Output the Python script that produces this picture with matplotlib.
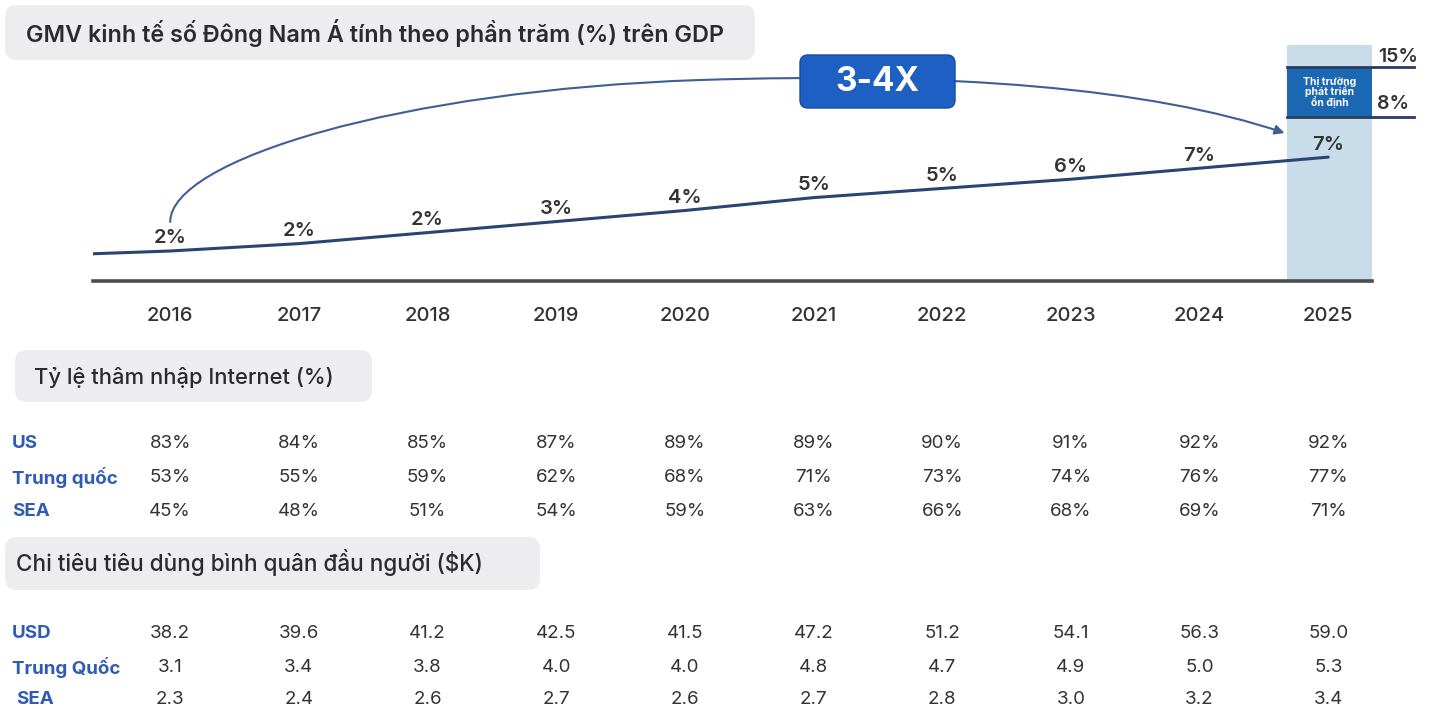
import numpy as np
import matplotlib
matplotlib.use("Agg")
import matplotlib.pyplot as plt
from matplotlib.patches import FancyBboxPatch, FancyArrowPatch
from matplotlib.path import Path
from matplotlib.transforms import blended_transform_factory

plt.rcParams['font.family'] = ['Inter', 'DejaVu Sans']

# ---- data ----
years = [2016, 2017, 2018, 2019, 2020, 2021, 2022, 2023, 2024, 2025]
gmv_line = [1.9, 2.3, 2.9, 3.5, 4.1, 4.8, 5.3, 5.8, 6.4, 7.0]  # % GDP (uoc luong theo duong ve)
gmv_labels = ["2%", "2%", "2%", "3%", "4%", "5%", "5%", "6%", "7%", "7%"]
line_start = (2015.40, 1.75)

internet_rows = ["US", "Trung quốc", "SEA"]
internet_us = [83, 84, 85, 87, 89, 89, 90, 91, 92, 92]
internet_cn = [53, 55, 59, 62, 68, 71, 73, 74, 76, 77]
internet_sea = [45, 48, 51, 54, 59, 63, 66, 68, 69, 71]

spend_rows = ["USD", "Trung Quốc", "SEA"]
spend_us = [38.2, 39.6, 41.2, 42.5, 41.5, 47.2, 51.2, 54.1, 56.3, 59.0]
spend_cn = [3.1, 3.4, 3.8, 4.0, 4.0, 4.8, 4.7, 4.9, 5.0, 5.3]
spend_sea = [2.3, 2.4, 2.6, 2.7, 2.6, 2.7, 2.8, 3.0, 3.2, 3.4]

target_hi, target_lo = "15%", "8%"

W, H = 1429, 709
fig = plt.figure(figsize=(W / 100, H / 100), dpi=100)

# nen theo pixel
bg = fig.add_axes([0, 0, 1, 1])
bg.set_xlim(0, W)
bg.set_ylim(H, 0)
bg.axis('off')

# truc bieu do
ax = fig.add_axes([93 / W, 1 - 281 / H, (1372 - 93) / W, (281 - 20) / H])
ax.set_xlim(2015.40, 2025.34)
ax.set_ylim(0.27, 14.45)
ax.patch.set_visible(False)
for s in ['top', 'right', 'left']:
    ax.spines[s].set_visible(False)
ax.spines['bottom'].set_color('#4d4d4d')
ax.spines['bottom'].set_linewidth(2.6)
ax.set_xticks([])
ax.set_yticks([])

dark = '#333333'
blue = '#2f5bb5'
navy = '#2a4574'

def gray_box(x0, y0, x1, y1, fc='#ededf0'):
    r = 12
    bg.add_patch(FancyBboxPatch((x0 + r, y0 + r), x1 - x0 - 2 * r, y1 - y0 - 2 * r,
                                boxstyle=f"round,pad={r}", fc=fc, ec='none', zorder=0))

# tieu de
gray_box(5, 5, 755, 60)
bg.text(26, 33, "GMV kinh tế số Đông Nam Á tính theo phần trăm (%) trên GDP",
        fontsize=16.8, fontweight='semibold', color='#2b2b2b', va='center', ha='left')

# vung du bao 2025
xt = ax.get_xaxis_transform()
ax.axvspan(2024.68, 2025.34, ymin=0, ymax=0.904, color='#c8dcea', zorder=0, lw=0)
ax.axvspan(2024.68, 2025.34, ymin=0.628, ymax=0.82, color='#1b68b4', zorder=1, lw=0)
for yy in (0.82, 0.628):
    ax.plot([2024.68, 2025.67], [yy, yy], transform=xt, color='#2c3b5e', lw=2, clip_on=False, zorder=2)
ax.text(2025.01, 0.724, "Thị trường\nphát triển\nổn định", transform=xt, ha='center', va='center',
        color='white', fontsize=7.5, fontweight='bold', linespacing=0.85, zorder=3)
ax.text(2025.54, 0.858, target_hi, transform=xt, ha='center', va='center', fontsize=14,
        fontweight='semibold', color=dark)
ax.text(2025.50, 0.678, target_lo, transform=xt, ha='center', va='center', fontsize=14,
        fontweight='semibold', color=dark)

# duong GMV
ax.plot([line_start[0]] + years, [line_start[1]] + gmv_line, color=navy, lw=2.2, zorder=4,
        solid_capstyle='round')
for x, y, lab in zip(years, gmv_line, gmv_labels):
    ax.annotate(lab, (x, y), xytext=(0, 9), textcoords='offset points', ha='center', va='center',
                fontsize=14.5, fontweight='semibold', color=dark, zorder=5)

# mui ten cong 3-4X
verts = [(2016.0, 3.48), (2016.0, 6.85), (2017.79, 10.65), (2020.12, 11.19),
         (2022.06, 11.63), (2023.62, 10.76), (2024.66, 8.31)]
codes = [Path.MOVETO] + [Path.CURVE4] * 6
arc = FancyArrowPatch(path=Path(verts, codes), arrowstyle='-|>', mutation_scale=14, lw=1.5,
                      color='#3d5f96', zorder=6)
arc.set_clip_on(False)
ax.add_patch(arc)
r = 8
box = FancyBboxPatch((800 + r, 55 + r), 155 - 2 * r, 53 - 2 * r, boxstyle=f"round,pad={r}",
                     fc='#1e5fc3', ec='#174c9e', lw=1, transform=bg.transData, zorder=7, clip_on=False)
ax.add_patch(box)
ax.text(877, 82, "3-4X", transform=bg.transData, ha='center', va='center', fontsize=24,
        fontweight='bold', color='white', zorder=8)

# nam
col = blended_transform_factory(ax.transData, bg.transData)
for x in years:
    bg.text(x, 316, str(x), transform=col, ha='center', va='center', fontsize=14.5,
            fontweight='medium', color=dark)

# bang internet
gray_box(15, 350, 372, 402)
bg.text(34, 377, "Tỷ lệ thâm nhập Internet (%)", fontsize=15.8, fontweight='medium',
        color='#2b2b2b', va='center', ha='left')
for name, vals, yy in zip(internet_rows, [internet_us, internet_cn, internet_sea], [443, 477, 512]):
    bg.text(12, yy, name, fontsize=13.5, fontweight='bold', color=blue, va='center', ha='left')
    for x, v in zip(years, vals):
        bg.text(x, yy, f"{v}%", transform=col, ha='center', va='center', fontsize=13.5, color=dark)

# bang chi tieu
gray_box(5, 537, 540, 590)
bg.text(16, 562, "Chi tiêu tiêu dùng bình quân đầu người ($K)", fontsize=16.2, fontweight='medium',
        color='#2b2b2b', va='center', ha='left')
for name, vals, yy, lx in zip(spend_rows, [spend_us, spend_cn, spend_sea], [633, 667, 699], [12, 12, 16]):
    bg.text(lx, yy, name, fontsize=13.5, fontweight='bold', color=blue, va='center', ha='left')
    for x, v in zip(years, vals):
        bg.text(x, yy, f"{v:.1f}", transform=col, ha='center', va='center', fontsize=13.5, color=dark)

fig.savefig("out.png", dpi=100)
